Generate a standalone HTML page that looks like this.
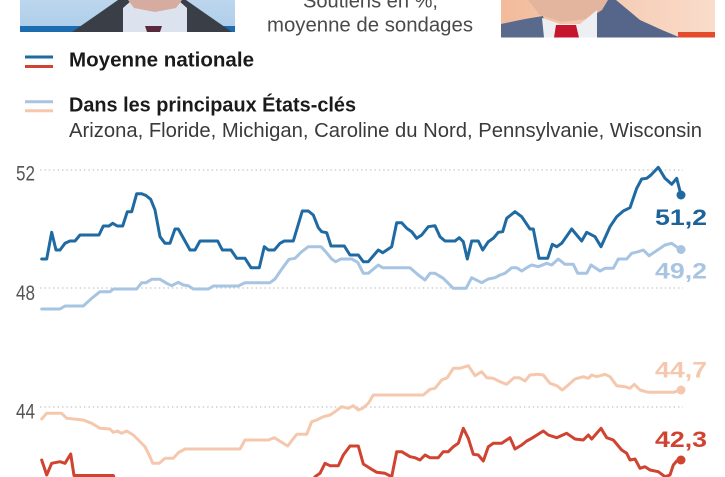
<!DOCTYPE html>
<html>
<head>
<meta charset="utf-8">
<style>
  html, body { margin: 0; padding: 0; background: #ffffff; }
  svg { display: block; }
  text { font-family: "Liberation Sans", "DejaVu Sans", sans-serif; }
</style>
</head>
<body>
<svg width="725" height="477" viewBox="0 0 725 477" xmlns="http://www.w3.org/2000/svg">
  <defs>
    <linearGradient id="bgL" x1="0" y1="0" x2="0" y2="1">
      <stop offset="0" stop-color="#bcd6ee"/>
      <stop offset="1" stop-color="#aecde9"/>
    </linearGradient>
    <linearGradient id="bgR" x1="0" y1="0" x2="1" y2="0">
      <stop offset="0" stop-color="#f2bb9b"/>
      <stop offset="1" stop-color="#f9dccb"/>
    </linearGradient>
    <clipPath id="cL"><rect x="20" y="0" width="215" height="32"/></clipPath>
    <clipPath id="cR"><rect x="501" y="0" width="214" height="37.5"/></clipPath>
  </defs>

  <!-- Left photo (Biden) -->
  <g clip-path="url(#cL)">
    <rect x="20" y="0" width="215" height="32" fill="url(#bgL)"/>
    <rect x="20" y="26" width="215" height="6" fill="#1d6cb0"/>
    <polygon points="72,32 98,14 118,0 186,0 206,14 232,32" fill="#3a3e46"/>
    <polygon points="123,32 123,8 132,0 178,0 187,8 187,32" fill="#dde3ee"/>
    <polygon points="128,0 182,0 176,8 155,12 134,8" fill="#d7aca0"/>
    <polygon points="145,26 162,26 160,32 147,32" fill="#5a2a3c"/>
  </g>

  <!-- Right photo (Trump) -->
  <g clip-path="url(#cR)">
    <rect x="501" y="0" width="214" height="37.5" fill="url(#bgR)"/>
    <polygon points="501,37.5 501,24 525,19 543,16 548,37.5" fill="#5a6a8d"/>
    <polygon points="588,37.5 592,12 600,0 616,0 640,20 662,30 680,37.5" fill="#56668a"/>
    <polygon points="528,0 608,0 602,10 588,19 562,22 540,15" fill="#e3b49e"/>
    <polygon points="542,18 560,24 580,24 597,10 597,37.5 544,37.5" fill="#eeeff3"/>
    <polygon points="556,25 576,25 579,37.5 554,37.5" fill="#c8152e"/>
    <rect x="678" y="32" width="37" height="5.5" fill="#e34b2c"/>
  </g>

  <!-- Title -->
  <text x="303" y="7.5" font-size="20" fill="#4a4a4a" textLength="135" lengthAdjust="spacingAndGlyphs">Soutiens en %,</text>
  <text x="267" y="31.5" font-size="20" fill="#4a4a4a" textLength="206" lengthAdjust="spacingAndGlyphs">moyenne de sondages</text>

  <!-- Legend -->
  <line x1="25" y1="57" x2="53" y2="57" stroke="#1f6aa2" stroke-width="3"/>
  <line x1="25" y1="66.5" x2="53" y2="66.5" stroke="#cf4330" stroke-width="3"/>
  <text x="69" y="66.5" font-size="20" font-weight="bold" fill="#1a1a1a" textLength="185" lengthAdjust="spacingAndGlyphs">Moyenne nationale</text>

  <line x1="25" y1="101.7" x2="53" y2="101.7" stroke="#a7c4e2" stroke-width="3"/>
  <line x1="25" y1="110.7" x2="53" y2="110.7" stroke="#f5c8ae" stroke-width="3"/>
  <text x="69" y="111.5" font-size="20" font-weight="bold" fill="#1a1a1a" textLength="287" lengthAdjust="spacingAndGlyphs">Dans les principaux États-clés</text>
  <text x="69" y="137" font-size="20" fill="#3a3a3a" textLength="633" lengthAdjust="spacingAndGlyphs">Arizona, Floride, Michigan, Caroline du Nord, Pennsylvanie, Wisconsin</text>

  <!-- Grid -->
  <g stroke="#c4c4c4" stroke-width="1.3" stroke-dasharray="1.4 3">
    <line x1="40" y1="170" x2="683" y2="170"/>
    <line x1="40" y1="288" x2="683" y2="288"/>
    <line x1="40" y1="407" x2="683" y2="407"/>
  </g>
  <g font-size="21" fill="#555555">
    <text x="16" y="180.5" textLength="19" lengthAdjust="spacingAndGlyphs">52</text>
    <text x="16" y="300" textLength="19" lengthAdjust="spacingAndGlyphs">48</text>
    <text x="16" y="418.5" textLength="19" lengthAdjust="spacingAndGlyphs">44</text>
  </g>

  <!-- Series -->
  <g fill="none" stroke-linejoin="round" stroke-linecap="round">
    <!-- Light blue: states Biden -->
    <polyline stroke="#a7c4e2" stroke-width="3" points="41.7,309 60,309 65,306 83.3,306 91.7,298.3 100,291.7 110,291.7 113.3,289 136.7,289 141.7,282.7 146,282.7 151.7,279.3 160,279.3 166.7,283.3 171.7,285.7 178.3,282.3 183.3,285 188.3,285.7 193.3,289 208.3,289 213.3,286 238.3,286 245,282.7 270,282.7 275,279 282.3,268.3 289,259.3 295,258.3 301.7,251.7 308.3,246.7 321,246.7 325.7,251.7 331.7,259 335.7,261.7 341,259 351.7,259 357.7,262.3 363.3,273.3 368.3,273.3 378.3,265 382.7,267.7 410,267.7 418.3,275 425,280 430,273.3 435,273.3 443.3,278.3 453.3,288.3 466,288.3 471.7,277.7 481.7,282.7 488.3,279 495,277.7 500,275 505,273.3 511.7,267.7 516.7,267.7 521.7,271 526.7,267.7 531.7,265 538.3,266.7 546.7,263.3 551.7,265 558.3,259 565,264.3 573.3,264.3 577.7,273.3 586.7,273.3 591,265 600,271 605,268.3 613.3,268.3 618.3,259 626.7,259 631.7,253.3 638.3,251.7 643.3,250 649,255.7 655,251.7 665,245 671.7,243.3 681,250"/>
    <!-- Peach: states Trump -->
    <polyline stroke="#f5c8ae" stroke-width="3" points="41.7,419 46.7,413.3 61.7,413.3 66.7,418.3 83.3,420 91.7,423.3 100,428.3 110,429 113.3,432.3 117.3,431 121.7,433.3 126.7,431 133.3,435 138.3,440 145,446.7 150,456.7 152.7,463.3 159.3,463.3 165,458.3 173.3,458.3 178.3,452.7 185,449 240,449 245,440 268.3,440 274.3,437.7 281.7,442.3 287.7,446 296.7,434.3 306.7,434.3 311.7,421.7 316.7,420 323.3,416.7 330,415 335,411.7 341.7,406.7 348.3,408.3 353.3,405.7 358.3,410 363,408 368.3,403.3 373.3,395 423.3,395 430,389.3 435,388.3 441.7,380 447.3,377.7 453.3,368.3 460,368.3 468.3,365.7 475,375.7 481.7,371.7 486.7,377.7 493.3,378.3 500,381.7 506.7,384.3 514,377.7 519.3,377.7 525,381 530,375 538.3,374.3 543.3,375 550,383.3 556.7,385.7 562.3,390 568.3,385 575,379 583.3,376.7 588.3,378.3 591.7,375 596.7,376.7 605,374.3 610,376.7 616.7,385.7 625,386.7 630,388.3 634.3,384.3 640,390 648.3,392.3 673.3,392.3 681,390"/>
    <!-- Dark blue: national Biden -->
    <polyline stroke="#1f6aa2" stroke-width="3" points="41.7,259 46.7,259 51.7,232.3 56,250 60,250 65,243.3 70,241 75,241 80,235 99,235 103.3,226 109,226 112.7,223.3 117.3,226 122.7,226 127.3,211.7 131.7,211.7 136.7,193.7 141.7,193.7 146,195.5 150.7,199.3 155,210 160,236.7 165,243.3 170,243.3 175,229 178.3,229 185,241 190,250 195,250 200,241 217.7,241 222.3,250 231,250 236.7,258.3 245,258.3 251,267.7 259.3,267.7 264.3,246.7 268.3,250 274.3,250 280,243.3 284.3,241 293.3,241 302.3,211 308.3,211 313.3,215 318.3,227.7 321.7,231.7 326.7,232.7 331,246 344.3,246 350,255 358.3,255 363.3,261.7 368.3,261.7 378.3,250 382.7,252.7 391.7,246.7 396.7,222.7 401.7,222.7 406.7,228.3 411.7,231.7 416.7,238.3 421.7,235 428.3,226.7 435,225.7 440,236.7 445,241 455,241 459.3,237.7 463.3,241.7 467.3,259 471.7,241 478.3,241 482.7,250 488.3,241.7 493.3,238.3 498.3,232.3 502.7,231.7 506.7,218.3 515,211.7 521.7,216.7 530,229 533.3,229 539,258.3 547.7,258.3 552.3,244.3 556.7,246.7 561.7,243.3 571.7,229 581.7,241 586.7,232.3 595,236.7 601,246.7 610,226.7 616.7,216.7 623.3,211 630,207.7 636.7,188.3 641.7,179 646.7,178.3 651,175 658.3,167.3 665,178.3 671.7,184.3 676.7,178.3 681,195"/>
    <!-- Red: national Trump -->
    <polyline stroke="#cf4330" stroke-width="3" points="41.7,460 46.7,475 51.7,463.3 60,461.7 65,463.3 70.7,454 74,475.5 113.3,475.5 118,490 310,490 315,476.7 320,473.3 325,463.3 330,465.7 338.3,465.7 343.3,455 350,446 358.3,446 363.3,464 370,468.3 376.7,472.3 385,473.3 391.7,476.7 396.7,451.7 401.7,451.7 410,456.7 415,457.7 420,460 425,455 430,457.7 438.3,457.7 443.3,451.7 448.3,451.7 453.3,446.7 458.3,443.3 463.3,428.3 468.3,438.3 473.3,454.3 478.3,455 483.3,461 488.3,446.7 493.3,443.3 501.7,443.3 510,437.7 515,449 521.7,445 526.7,441 531.7,438.3 543.3,431 548.3,435 556.7,437.7 566.7,433.3 575,439 583.3,440 588.3,435 591.7,439 601,428.3 606.7,437.7 613.3,440 621.7,450 626.7,453.3 630,460 635,459 640,468.3 645,466.7 650,470 658.3,471.7 665,476.7 670,475 673.3,465 676.7,461 681,460"/>
  </g>

  <!-- End dots -->
  <circle cx="681" cy="195" r="4.5" fill="#1f6aa2"/>
  <circle cx="681" cy="249.5" r="4.5" fill="#a7c4e2"/>
  <circle cx="681" cy="390" r="4.5" fill="#f5c8ae"/>
  <circle cx="681" cy="460" r="4.5" fill="#cf4330"/>

  <!-- End labels -->
  <g font-size="22" font-weight="bold">
    <text x="655" y="225" fill="#1b6399" textLength="52" lengthAdjust="spacingAndGlyphs">51,2</text>
    <text x="655" y="278.5" fill="#a7c4e2" textLength="52" lengthAdjust="spacingAndGlyphs">49,2</text>
    <text x="655" y="377.5" fill="#f5c8ae" textLength="52" lengthAdjust="spacingAndGlyphs">44,7</text>
    <text x="655" y="447" fill="#cf4330" textLength="52" lengthAdjust="spacingAndGlyphs">42,3</text>
  </g>
</svg>
</body>
</html>
